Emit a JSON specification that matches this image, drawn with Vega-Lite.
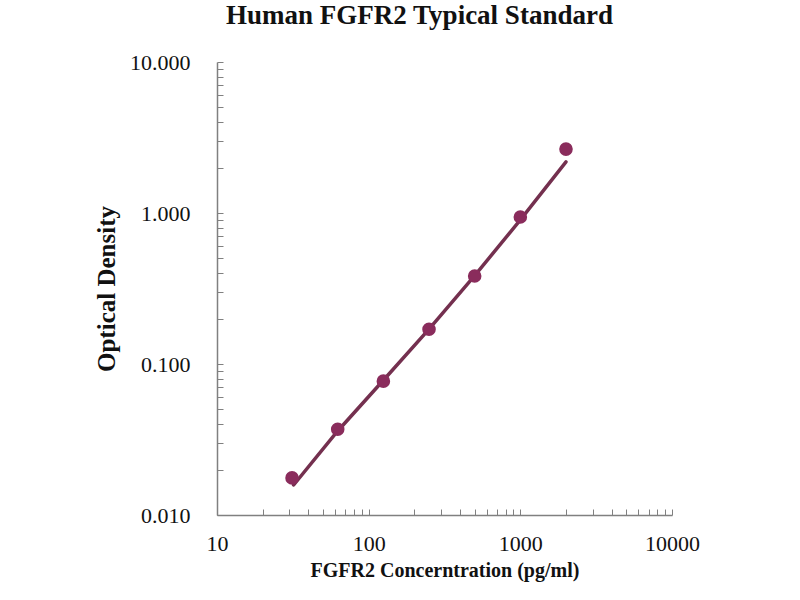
{
  "$schema": "https://vega.github.io/schema/vega-lite/v6.json",
  "autosize": "none",
  "padding": {"left": 217, "top": 62, "right": 128, "bottom": 85},
  "width": 455,
  "height": 453,
  "background": "white",
  "config": {
    "view": {"stroke": null},
    "font": "Liberation Serif",
    "axis": {
      "grid": false,
      "domainColor": "#808080",
      "domainWidth": 1.5,
      "tickColor": "#808080",
      "tickSize": -6,
      "labelFont": "Liberation Serif",
      "labelFontSize": 22,
      "labelColor": "#111",
      "titleFont": "Liberation Serif",
      "titleFontWeight": "bold",
      "titleColor": "#111"
    }
  },
  "title": {
    "text": "Human FGFR2 Typical Standard",
    "font": "Liberation Serif",
    "fontSize": 27,
    "fontWeight": "bold",
    "color": "#111",
    "anchor": "middle",
    "dx": -25,
    "offset": 21
  },
  "datasets": {
    "standard": [
      {"conc": 31.25, "od": 0.0176},
      {"conc": 62.5, "od": 0.037},
      {"conc": 125, "od": 0.077},
      {"conc": 250, "od": 0.17},
      {"conc": 500, "od": 0.383},
      {"conc": 1000, "od": 0.94},
      {"conc": 2000, "od": 2.65}
    ],
    "fit": [
      {"conc": 32, "od": 0.0158},
      {"conc": 62.5, "od": 0.036},
      {"conc": 125, "od": 0.078},
      {"conc": 250, "od": 0.17},
      {"conc": 500, "od": 0.385},
      {"conc": 1000, "od": 0.9},
      {"conc": 2000, "od": 2.18}
    ]
  },
  "encoding": {
    "x": {
      "field": "conc",
      "type": "quantitative",
      "scale": {"type": "log", "domain": [10, 10000]},
      "title": "FGFR2 Concerntration (pg/ml)",
      "axis": {
        "values": [10, 20, 30, 40, 50, 60, 70, 80, 90, 100, 200, 300, 400, 500, 600, 700, 800, 900, 1000, 2000, 3000, 4000, 5000, 6000, 7000, 8000, 9000, 10000],
        "labelExpr": "indexof([10, 100, 1000, 10000], datum.value) >= 0 ? format(datum.value, 'd') : ''",
        "labelPadding": 24,
        "labelFlush": false,
        "titleFontSize": 20,
        "titlePadding": 6
      }
    },
    "y": {
      "field": "od",
      "type": "quantitative",
      "scale": {"type": "log", "domain": [0.01, 10]},
      "title": "Optical Density",
      "axis": {
        "values": [0.01, 0.02, 0.03, 0.04, 0.05, 0.06, 0.07, 0.08, 0.09, 0.1, 0.2, 0.3, 0.4, 0.5, 0.6, 0.7, 0.8, 0.9, 1, 2, 3, 4, 5, 6, 7, 8, 9, 10],
        "labelExpr": "indexof([0.01, 0.1, 1, 10], datum.value) >= 0 ? format(datum.value, '.3f') : ''",
        "labelPadding": 33,
        "labelFlush": false,
        "titleFontSize": 25,
        "titlePadding": 10
      }
    }
  },
  "layer": [
    {
      "data": {"name": "fit"},
      "mark": {"type": "line", "color": "#74304f", "strokeWidth": 3.5, "strokeCap": "round"}
    },
    {
      "data": {"name": "standard"},
      "mark": {"type": "circle", "color": "#8a2c5c", "opacity": 1, "size": 185}
    }
  ]
}
